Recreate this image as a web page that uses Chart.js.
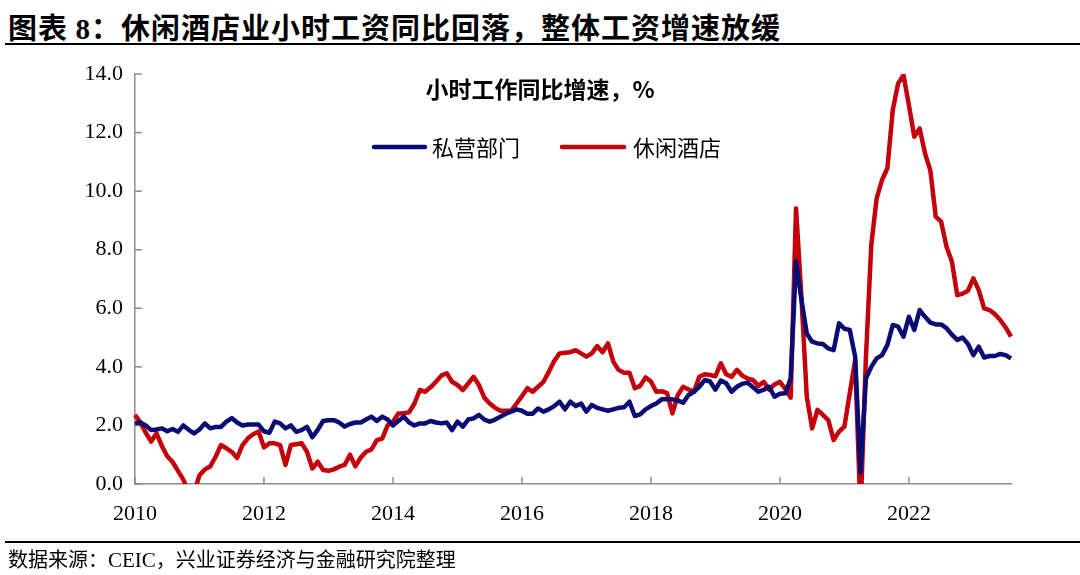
<!DOCTYPE html>
<html>
<head>
<meta charset="utf-8">
<script src="https://cdn.jsdelivr.net/npm/chart.js@4.4.1/dist/chart.umd.min.js"></script>
<style>
  html, body { margin: 0; padding: 0; background: #fff; }
  #wrap { position: relative; width: 1080px; height: 575px; overflow: hidden; background: #fff; }
  #myChart { position: absolute; left: 0; top: 0; }
  .title { position: absolute; left: 8px; top: 5px; font: bold 29px "Noto Sans CJK SC", sans-serif; color: #000; white-space: nowrap; letter-spacing: 1px; }
  .title .num { font-family: "Liberation Serif", serif; }
  .rule { position: absolute; left: 5px; right: 0; background: #000; }
  .source { position: absolute; left: 8px; top: 544px; font: 20px "Noto Sans CJK SC", sans-serif; color: #000; white-space: nowrap; }
  .source .lat { font-family: "Liberation Serif", serif; font-size: 21px; }
</style>
</head>
<body>
<div id="wrap">
  <div class="title">图表 <span class="num">8</span>：休闲酒店业小时工资同比回落，整体工资增速放缓</div>
  <div class="rule" style="top:43px;height:2px;"></div>
  <canvas id="myChart" width="1080" height="575"></canvas>
  <div class="rule" style="top:541px;height:1.5px;"></div>
  <div class="source">数据来源：<span class="lat">CEIC</span>，兴业证券经济与金融研究院整理</div>
</div>
<script>
// monthly YoY growth of hourly earnings, Jan 2010 .. Aug 2023 (one row per year)
const privateSector = [
  2.07, 2.1, 2.0, 1.84, 1.86, 1.9, 1.8, 1.88, 1.78, 2.0, 1.85, 1.73,
  1.86, 2.07, 1.9, 1.95, 1.95, 2.13, 2.25, 2.1, 2.0, 2.03, 2.03, 2.03,
  1.8, 1.75, 2.13, 2.07, 1.9, 2.0, 1.78, 1.84, 1.95, 1.6, 1.85, 2.15,
  2.18, 2.18, 2.1, 1.96, 2.05, 2.1, 2.1, 2.2, 2.3, 2.15, 2.3, 2.2,
  2.0, 2.15, 2.3, 2.1, 2.0, 2.07, 2.07, 2.15, 2.1, 2.07, 2.1, 1.84,
  2.13, 1.96, 2.2, 2.24, 2.36, 2.2, 2.13, 2.2, 2.3, 2.4, 2.47, 2.55,
  2.5, 2.4, 2.4, 2.58, 2.47, 2.55, 2.66, 2.81, 2.55, 2.81, 2.66, 2.75,
  2.47, 2.7, 2.6, 2.55, 2.5, 2.55, 2.6, 2.62, 2.81, 2.32, 2.38, 2.55,
  2.66, 2.75, 2.89, 2.89, 2.89, 2.85, 2.78, 3.04, 3.15, 3.32, 3.55, 3.5,
  3.22, 3.53, 3.44, 3.15, 3.32, 3.42, 3.46, 3.3, 3.15, 3.22, 3.32, 2.98,
  3.08, 3.1, 3.6, 7.6, 6.3, 5.14, 4.86, 4.8, 4.78, 4.63, 4.57, 5.49,
  5.3, 5.26, 4.35, 0.4, 3.6, 4.0, 4.29, 4.4, 4.75, 5.43, 5.37, 5.03,
  5.71, 5.26, 5.94, 5.71, 5.51, 5.45, 5.45, 5.32, 5.1, 4.92, 5.0, 4.78,
  4.4, 4.69, 4.32, 4.37, 4.37, 4.44, 4.4, 4.29
];
const leisureHotel = [
  2.36, 2.1, 1.75, 1.45, 1.73, 1.3, 0.95, 0.75, 0.45, 0.15, -0.3, -0.3,
  0.3, 0.5, 0.6, 0.93, 1.33, 1.22, 1.1, 0.89, 1.33, 1.56, 1.7, 1.79,
  1.25, 1.39, 1.39, 1.33, 0.65, 1.33, 1.36, 1.39, 1.1, 0.53, 0.76, 0.48,
  0.45, 0.5, 0.59, 0.65, 1.0, 0.6, 0.9, 1.1, 1.18, 1.5, 1.55, 2.0,
  2.13, 2.41, 2.42, 2.45, 2.75, 3.21, 3.15, 3.3, 3.49, 3.7, 3.78, 3.49,
  3.38, 3.21, 3.43, 3.66, 3.38, 2.95, 2.75, 2.6, 2.5, 2.5, 2.5, 2.75,
  3.0, 3.27, 3.15, 3.32, 3.49, 3.83, 4.2, 4.46, 4.48, 4.5, 4.57, 4.46,
  4.35, 4.46, 4.71, 4.5, 4.8, 4.18, 3.89, 3.8, 3.8, 3.27, 3.35, 3.64,
  3.5, 3.15, 3.17, 3.1, 2.41, 3.04, 3.32, 3.23, 3.15, 3.66, 3.75, 3.72,
  3.68, 4.12, 3.75, 3.66, 3.9, 3.7, 3.6, 3.55, 3.35, 3.49, 3.22, 3.4,
  3.49, 3.25, 2.95, 9.41, 6.4, 2.98, 1.9, 2.53, 2.36, 2.18, 1.5, 1.79,
  1.96, 3.1, 4.23, -1.0, 4.3, 8.16, 9.75, 10.38, 10.78, 12.77, 13.68, 13.96,
  12.94, 11.86, 12.14, 11.29, 10.7, 9.13, 8.96, 8.1, 7.6, 6.45, 6.5, 6.6,
  7.02, 6.62, 6.0, 5.94, 5.8, 5.6, 5.35, 5.03
];
const yearLabels = ['2010', '2012', '2014', '2016', '2018', '2020', '2022'];
const yTicks = [0, 2, 4, 6, 8, 10, 12, 14];
const seriesNames = ['私营部门', '休闲酒店'];
const subTitle = '小时工作同比增速，%';

const navy = '#0b0b74';
const red = '#c4000b';
const axisColor = '#8c8c8c';

// month categories, one per data point
const months = [];
for (let i = 0; i < privateSector.length; i++) {
  const yr = 2010 + Math.floor(i / 12);
  months.push(`${yr}-${String(i % 12 + 1).padStart(2, '0')}`);
}

// inner tick marks, subtitle and legend
const decorPlugin = {
  id: 'decor',
  beforeDatasetsDraw(chart) {
    const { ctx, chartArea, scales: { x, y } } = chart;
    ctx.save();
    ctx.strokeStyle = axisColor;
    ctx.lineWidth = 1.5;
    yTicks.forEach(v => {
      const py = y.getPixelForValue(v);
      ctx.beginPath();
      ctx.moveTo(chartArea.left, py);
      ctx.lineTo(chartArea.left + 7, py);
      ctx.stroke();
    });
    yearLabels.forEach((lab, k) => {
      const px = x.getPixelForValue(k * 24);
      ctx.beginPath();
      ctx.moveTo(px, chartArea.bottom);
      ctx.lineTo(px, chartArea.bottom - 7);
      ctx.stroke();
    });
    ctx.restore();
  },
  afterDraw(chart) {
    const { ctx } = chart;
    ctx.save();
    ctx.fillStyle = '#000';
    ctx.textBaseline = 'middle';
    ctx.textAlign = 'center';
    ctx.font = 'bold 23px "Noto Sans CJK SC"';
    ctx.fillText(subTitle, 540, 89);

    ctx.textAlign = 'left';
    ctx.font = '22px "Noto Sans CJK SC"';
    ctx.lineCap = 'round';
    ctx.lineWidth = 4.5;
    const items = [
      { name: seriesNames[0], color: navy, x0: 374, x1: 425, tx: 432 },
      { name: seriesNames[1], color: red, x0: 562, x1: 624, tx: 633 }
    ];
    items.forEach(it => {
      ctx.strokeStyle = it.color;
      ctx.beginPath();
      ctx.moveTo(it.x0, 147);
      ctx.lineTo(it.x1, 147);
      ctx.stroke();
      ctx.fillText(it.name, it.tx, 148);
    });
    ctx.restore();
  }
};

const ctx = document.getElementById('myChart').getContext('2d');
const wageChart = new Chart(ctx, {
  type: 'line',
  data: {
    labels: months,
    datasets: [
      { label: seriesNames[0], data: privateSector, borderColor: navy, borderWidth: 4.5, pointRadius: 0, tension: 0, borderJoinStyle: 'round' },
      { label: seriesNames[1], data: leisureHotel, borderColor: red, borderWidth: 4.5, pointRadius: 0, tension: 0, borderJoinStyle: 'round' }
    ]
  },
  options: {
    responsive: false,
    animation: false,
    events: [],
    layout: { padding: { left: 0, right: 69, top: 74, bottom: 51 } },
    plugins: { legend: { display: false }, tooltip: { enabled: false } },
    scales: {
      x: {
        type: 'category',
        offset: false,
        grid: { display: false, drawTicks: false },
        border: { display: true, color: axisColor, width: 1.5 },
        ticks: {
          autoSkip: false,
          maxRotation: 0,
          padding: 17,
          color: '#000',
          font: { family: 'Liberation Serif', size: 22 },
          callback: (val, idx) => (idx % 24 === 0 ? yearLabels[idx / 24] : null)
        },
        afterFit: scale => { scale.height = 40; }
      },
      y: {
        min: 0,
        max: 14,
        grid: { display: false, drawTicks: false },
        border: { display: true, color: axisColor, width: 1.5 },
        ticks: {
          stepSize: 2,
          padding: 12,
          color: '#000',
          font: { family: 'Liberation Serif', size: 22 },
          callback: v => v.toFixed(1)
        },
        afterFit: scale => { scale.width = 135; }
      }
    }
  },
  plugins: [decorPlugin]
});
</script>
</body>
</html>
